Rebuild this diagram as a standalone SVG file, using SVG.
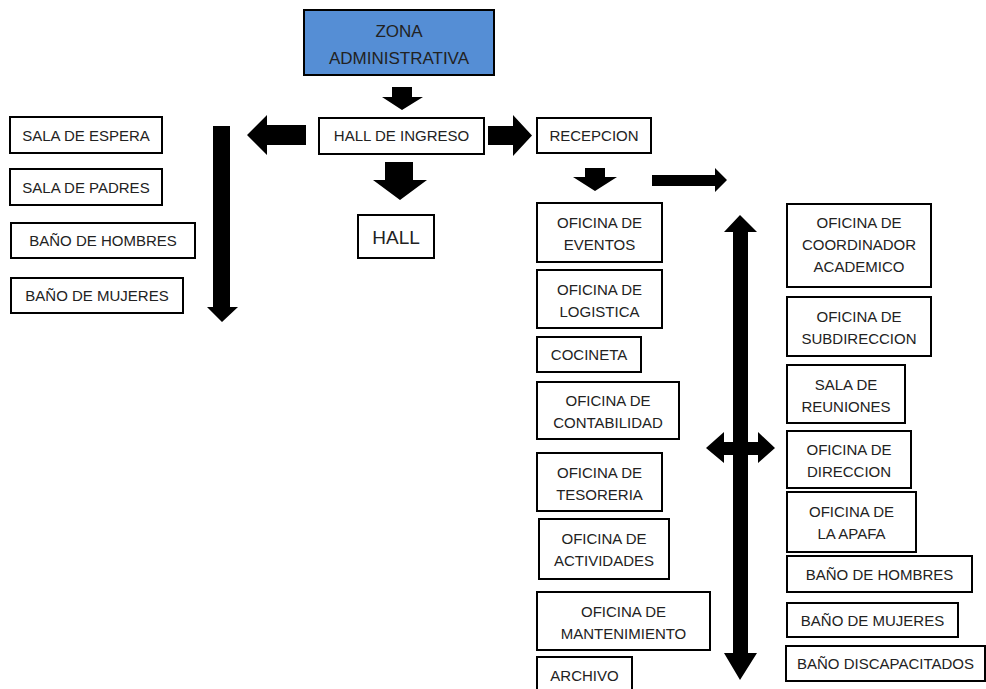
<svg xmlns="http://www.w3.org/2000/svg" width="986" height="689" viewBox="0 0 986 689">
<style>
.b{fill:#fff;stroke:#000;stroke-width:2}
.z{fill:#558ed5;stroke:#000;stroke-width:2}
text{font-family:"Liberation Sans",Arial,sans-serif;font-size:15px;fill:#222;text-anchor:middle}
.big{font-size:19px}
.zt{font-size:17px}
.a{fill:#000}
</style>
<rect width="986" height="689" fill="#fff"/>
<g id="connectors">
<polygon class="a" points="392,87 412,87 412,97 423,97 402,110 382,97 392,97"/>
<polygon class="a" points="306,125 267,125 267,115 247,135 267,155 267,145 306,145"/>
<polygon class="a" points="488,126 513,126 513,115 532,135.5 513,156 513,145 488,145"/>
<polygon class="a" points="385,162 413,162 413,180 427,180 400,200 373,180 385,180"/>
<polygon class="a" points="213,126 230,126 230,307 238,307 222,322 207,307 213,307"/>
<polygon class="a" points="585,168 605,168 605,177 617,177 595,191 573,177 585,177"/>
<polygon class="a" points="652,175 715,175 715,168 727,180 715,192 715,186 652,186"/>
<polygon class="a" points="740,215 757,232 748,232 748,653 757,653 740,680 724,653 733,653 733,232 724,232"/>
<polygon class="a" points="706,448 724,432 724,442 758,442 758,432 775,448 758,463 758,455 724,455 724,463"/>
</g>
<g id="zona"><rect class="z" x="304" y="10" width="190" height="65"/><text class="zt" x="399" y="37">ZONA</text><text class="zt" x="399" y="64">ADMINISTRATIVA</text></g>
<g id="hall-ingreso"><rect class="b" x="319" y="118" width="165" height="36"/><text x="401.5" y="141">HALL DE INGRESO</text></g>
<g id="hall"><rect class="b" x="358" y="215" width="76" height="43"/><text class="big" x="396" y="243.5">HALL</text></g>
<g id="recepcion"><rect class="b" x="537" y="118" width="114" height="35"/><text x="594" y="141">RECEPCION</text></g>
<g id="sala-espera"><rect class="b" x="10" y="117" width="152" height="36"/><text x="86" y="140.5">SALA DE ESPERA</text></g>
<g id="sala-padres"><rect class="b" x="10" y="169" width="152" height="36"/><text x="86" y="192.5">SALA DE PADRES</text></g>
<g id="bano-hombres-1"><rect class="b" x="11" y="223" width="184" height="35"/><text x="103" y="246">BAÑO DE HOMBRES</text></g>
<g id="bano-mujeres-1"><rect class="b" x="11" y="278" width="172" height="35"/><text x="97" y="301">BAÑO DE MUJERES</text></g>
<g id="of-eventos"><rect class="b" x="537" y="203" width="125" height="59"/><text x="599.5" y="228">OFICINA DE</text><text x="599.5" y="250">EVENTOS</text></g>
<g id="of-logistica"><rect class="b" x="537" y="270" width="125" height="58"/><text x="599.5" y="294.5">OFICINA DE</text><text x="599.5" y="316.5">LOGISTICA</text></g>
<g id="cocineta"><rect class="b" x="537" y="337" width="104" height="35"/><text x="589" y="360">COCINETA</text></g>
<g id="of-contabilidad"><rect class="b" x="537" y="382" width="142" height="57"/><text x="608" y="405.5">OFICINA DE</text><text x="608" y="427.5">CONTABILIDAD</text></g>
<g id="of-tesoreria"><rect class="b" x="537" y="453" width="125" height="58"/><text x="599.5" y="477.5">OFICINA DE</text><text x="599.5" y="499.5">TESORERIA</text></g>
<g id="of-actividades"><rect class="b" x="539" y="519" width="130" height="60"/><text x="604" y="544">OFICINA DE</text><text x="604" y="566">ACTIVIDADES</text></g>
<g id="of-mantenimiento"><rect class="b" x="537" y="592" width="173" height="58"/><text x="623.5" y="616.5">OFICINA DE</text><text x="623.5" y="638.5">MANTENIMIENTO</text></g>
<g id="archivo"><rect class="b" x="537" y="657" width="95" height="40"/><text x="584.5" y="681">ARCHIVO</text></g>
<g id="of-coordinador"><rect class="b" x="787" y="204" width="144" height="83"/><text x="859" y="227.5">OFICINA DE</text><text x="859" y="249.5">COORDINADOR</text><text x="859" y="271.5">ACADEMICO</text></g>
<g id="of-subdireccion"><rect class="b" x="787" y="297" width="144" height="59"/><text x="859" y="321.5">OFICINA DE</text><text x="859" y="343.5">SUBDIRECCION</text></g>
<g id="sala-reuniones"><rect class="b" x="787" y="365" width="118" height="58"/><text x="846" y="389.5">SALA DE</text><text x="846" y="411.5">REUNIONES</text></g>
<g id="of-direccion"><rect class="b" x="787" y="431" width="124" height="57"/><text x="849" y="454.5">OFICINA DE</text><text x="849" y="476.5">DIRECCION</text></g>
<g id="of-apafa"><rect class="b" x="787" y="492" width="129" height="60"/><text x="851.5" y="517">OFICINA DE</text><text x="851.5" y="539">LA APAFA</text></g>
<g id="bano-hombres-2"><rect class="b" x="787" y="556" width="185" height="36"/><text x="879.5" y="579.5">BAÑO DE HOMBRES</text></g>
<g id="bano-mujeres-2"><rect class="b" x="787" y="603" width="171" height="34"/><text x="872.5" y="625.5">BAÑO DE MUJERES</text></g>
<g id="bano-discapacitados"><rect class="b" x="786" y="646" width="199" height="35"/><text x="885.5" y="669">BAÑO DISCAPACITADOS</text></g>
</svg>
